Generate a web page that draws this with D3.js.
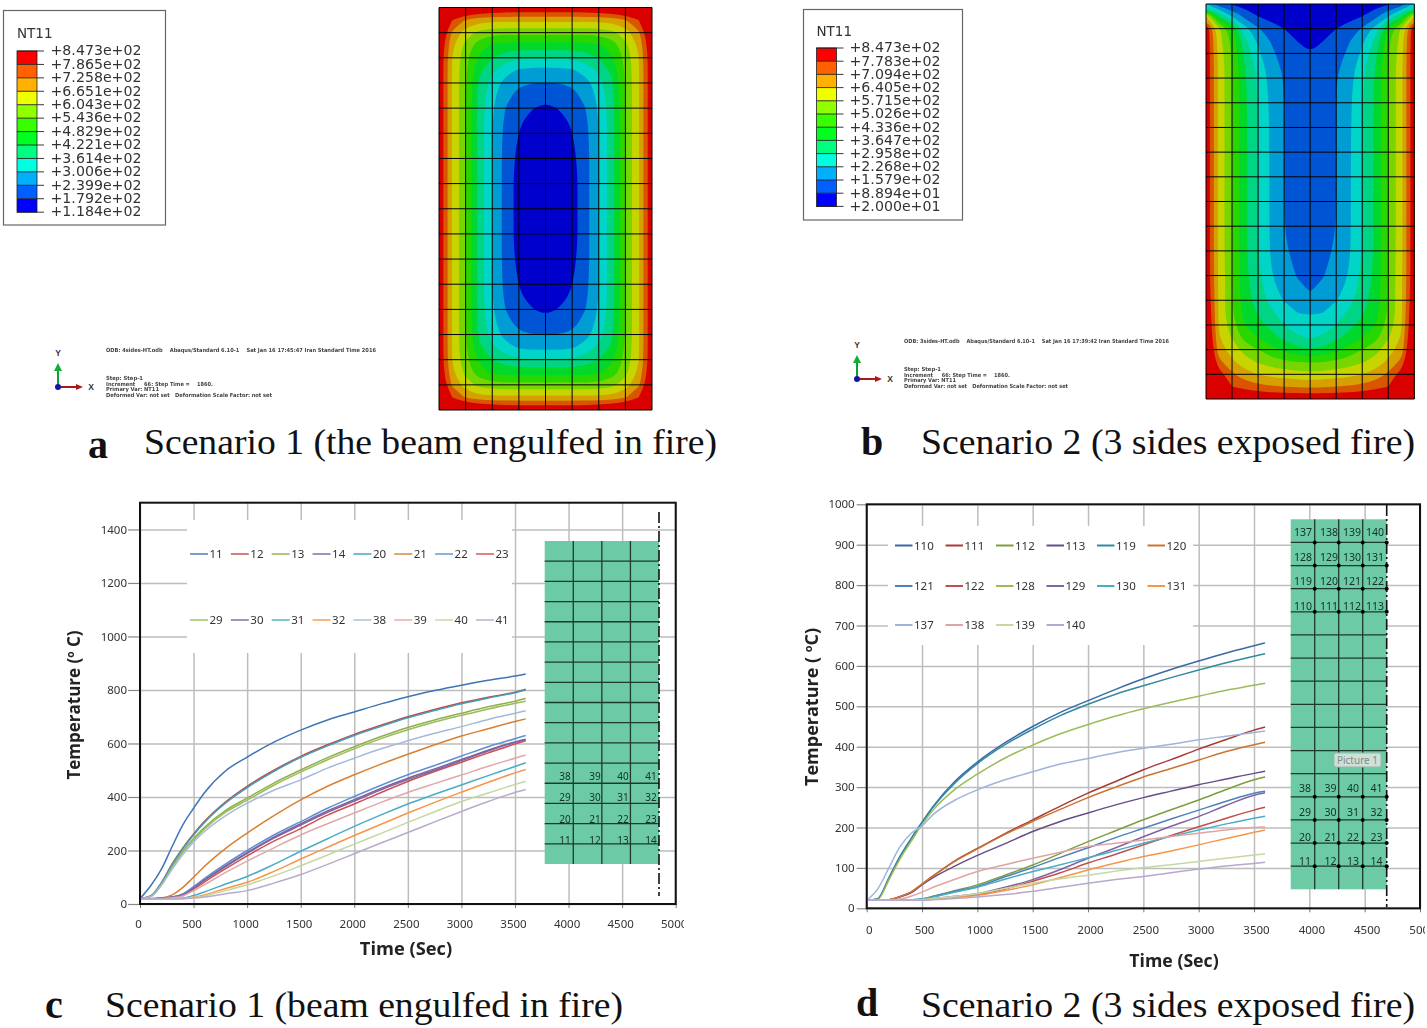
<!DOCTYPE html>
<html><head><meta charset="utf-8">
<script src="https://cdn.jsdelivr.net/npm/d3@7"></script>
<style>html,body{margin:0;padding:0;background:#fff}svg{display:block}</style>
</head><body><svg id="c" width="1427" height="1028"></svg>
<script>
// ---------- contour panels: temperature band level read at mesh half-cells
const fieldAQuadrant = [
 [14,13.5,13,12.6,12.3,12.1,12,12,12],
 [13.5,11,9.9,9.4,9.3,9.3,9.3,9.3,9.3],
 [12.5,9.8,8.5,7.7,7.4,7.3,7.3,7.3,7.3],
 [12.2,9.2,7.7,6.4,5.8,5.65,5.6,5.6,5.6],
 [12,9,7.3,5.9,5,4.4,4.15,4.1,4.1],
 [12,8.9,7.2,5.2,4.2,3.4,2.85,2.7,2.7],
 [12,8.9,7.1,4.9,3.6,2.6,2.15,2,2],
 [12,8.9,7.1,4.75,3.3,2.25,1.7,1.4,1.35],
 [12,8.9,7.1,4.65,3.15,2,1.35,1.05,.75],
 [12,8.9,7.1,4.6,3.05,1.8,1.12,.7,.55],
 [12,8.9,7.1,4.6,3,1.7,1,.5,.4],
 [12,8.9,7.1,4.6,3,1.65,.85,.4,.3],
 [12,8.9,7.1,4.6,3,1.6,.75,.3,.2],
 [12,8.9,7.1,4.6,3,1.6,.65,.25,.1],
 [12,8.9,7.1,4.6,3,1.6,.6,.2,.05],
 [12,8.9,7.1,4.6,3,1.6,.6,.2,0],
 [12,8.9,7.1,4.6,3,1.6,.6,.2,0]
];
const fieldARowUnits = d3.range(0,16.5,.5);
const fieldBRowUnits = [0,.5,1,1.5,2,2.5,3,4,6,9,10,11,11.5,12,12.5,13,13.5,14,14.5,15,15.5,16];
const fieldBHalf = [
 [3,1.3,.9,.6,.4,.3,.2,.1,0],
 [9,5,3,1.7,1,.6,.4,.3,.2],
 [12,8.2,6.2,3.4,2.1,1.5,1,.75,.6],
 [12,8.4,6.7,4.3,2.8,1.95,1.4,1,.85],
 [12,8.6,6.9,4.7,3.2,2.2,1.6,1.2,1],
 [12,8.7,7,5,3.6,2.4,1.8,1.5,1.4],
 [12,8.7,7.05,5.1,3.8,2.6,1.95,1.6,1.5],
 [12,8.7,7.05,5.2,3.95,2.8,2,1.7,1.6],
 [12,8.7,7.05,5.2,4,2.85,2,1.7,1.6],
 [12,8.7,7.05,5.2,4,2.85,2,1.7,1.6],
 [12,8.7,7.05,5.2,4,2.9,2.1,1.8,1.7],
 [12,8.75,7.1,5.25,4.3,3.1,2.4,1.95,1.8],
 [12.1,8.8,7.1,5.3,4.5,3.3,2.6,2.2,1.9],
 [12.2,8.8,7.1,5.4,4.65,3.65,2.95,2.4,2.2],
 [12.4,8.8,7.15,5.6,4.9,4.2,3.5,3,2.85],
 [12.6,8.9,7.4,6,5.3,4.7,4,3.6,3.5],
 [12.8,9.1,7.9,6.6,6,5.4,4.7,4.1,3.95],
 [13.2,9.4,8.6,7.6,7,6.3,5.8,5.3,5],
 [13.5,10.3,9.2,8.4,7.9,7.5,7.2,7,6.9],
 [14,11.5,10.2,9.4,9,8.7,8.5,8.4,8.3],
 [14,12.5,11,10.6,10.3,10.1,10,9.9,9.8],
 [14,14,13,12.5,12.2,12.1,12,12,12]
];
const mapBandColors = ["#0000cd","#0055d5","#009dd5","#00d5c8","#00d585","#00d82c","#28d600","#78d600","#c8d400","#d5a000","#d95500","#d90000"];
const legendBandColors = ["#ff0000","#ff6000","#ffb000","#f0ff00","#90ff00","#38ff00","#00ff20","#00ff80","#00ffe0","#00b0ff","#0060ff","#0000ff"];
const legendALabels = ["+8.473e+02","+7.865e+02","+7.258e+02","+6.651e+02","+6.043e+02","+5.436e+02","+4.829e+02","+4.221e+02","+3.614e+02","+3.006e+02","+2.399e+02","+1.792e+02","+1.184e+02"];
const legendBLabels = ["+8.473e+02","+7.783e+02","+7.094e+02","+6.405e+02","+5.715e+02","+5.026e+02","+4.336e+02","+3.647e+02","+2.958e+02","+2.268e+02","+1.579e+02","+8.894e+01","+2.000e+01"];

// ---------- time–temperature curves
const timesSec = [0,100,200,300,400,500,600,800,1000,1250,1500,1750,2000,2250,2500,2750,3000,3250,3500,3600];
const namesC = [11,12,13,14,20,21,22,23,29,30,31,32,38,39,40,41];
const colorsC = ["#3f74b5","#be4b48","#8fb04c","#7d60a0","#3f9fb8","#d97f30","#5f8fd0","#d05050","#9bbb59","#8064a2","#4bacc6","#f79646","#a5b9db","#e0a8a6","#c4d7a0","#b9a9cf"];
const c11=[20,68,130,215,296,358,415,498,549,605,650,688,718,748,775,798,818,836,852,860];
const c12=[20,30,80,150,210,262,308,382,440,500,552,595,634,668,700,727,752,773,792,803];
const c13=[20,28,75,142,198,245,286,350,396,452,501,547,588,626,660,688,713,737,758,768];
const c14=[20,20,22,26,36,62,90,143,192,250,300,348,390,432,470,505,540,575,606,616];
const c20=[20,30,78,148,207,258,304,378,435,496,548,591,630,664,696,723,748,770,790,800];
const c21=[20,20,22,34,62,100,140,208,265,330,389,440,483,523,560,595,628,655,682,692];
const c22=[20,20,22,26,38,65,95,150,200,258,308,358,402,444,483,518,553,588,618,630];
const c23=[20,20,21,24,33,56,82,132,180,235,282,332,374,417,458,495,530,565,598,610];
const c29=[20,28,73,138,194,240,280,343,388,444,493,539,580,618,651,680,705,729,750,758];
const c30=[20,20,21,25,35,60,88,140,189,246,295,343,385,427,465,500,536,572,604,614];
const c31=[20,20,20,20,22,32,45,75,103,148,197,244,290,333,374,410,445,480,514,528];
const c32=[20,20,20,20,21,26,34,58,81,122,168,212,256,298,340,380,418,455,490,503];
const c38=[20,27,70,130,185,232,270,330,377,425,464,508,545,580,610,638,663,690,713,722];
const c39=[20,20,20,23,30,50,72,118,160,210,258,300,340,380,417,450,482,515,545,557];
const c40=[20,20,20,20,21,24,30,50,72,105,143,183,224,264,305,345,383,415,447,459];
const c41=[20,20,20,20,20,22,26,38,50,78,110,148,188,228,267,307,346,383,417,428];
const seriesC=[c11,c12,c13,c14,c20,c21,c22,c23,c29,c30,c31,c32,c38,c39,c40,c41];

const namesD = [110,111,112,113,119,120,121,122,128,129,130,131,137,138,139,140];
const colorsD = ["#3a6aa5","#a83a38","#7e9d3f","#664e86","#35899f","#c97530","#4f81bd","#c0504d","#9bbb59","#8064a2","#4bacc6","#f79646","#a0b5d8","#e0a5a3","#c5d8a2","#b8a7ce"];
const d110=[20,24,75,128,172,213,252,315,362,410,450,485,514,542,568,591,612,632,650,657];
const d111=[20,20,21,29,40,60,80,118,148,185,219,253,285,314,343,368,394,418,441,449];
const d112=[20,20,20,20,21,23,30,44,58,82,107,136,165,192,219,244,268,294,318,325];
const d113=[20,20,21,28,38,58,76,105,131,160,190,215,236,256,274,290,306,320,334,339];
const d119=[20,24,74,127,171,212,250,311,358,405,443,477,505,530,551,571,590,608,624,630];
const d120=[20,20,21,29,40,60,80,117,147,183,215,245,274,300,325,346,367,388,405,411];
const d121=[20,20,20,20,21,23,29,42,54,78,101,126,150,175,198,221,243,265,285,290];
const d122=[20,20,20,20,20,21,23,28,34,48,67,88,112,134,157,180,202,223,243,250];
const d128=[20,22,70,122,165,207,243,295,332,372,404,432,455,476,494,510,525,540,552,557];
const d129=[20,20,20,20,20,21,24,30,36,52,71,96,124,150,177,203,227,255,280,286];
const d130=[20,20,20,20,21,23,28,40,52,72,91,108,125,143,161,178,194,209,223,228];
const d131=[20,20,20,20,20,21,23,27,32,44,58,76,95,112,128,142,157,173,188,194];
const d137=[20,48,100,152,185,204,232,268,293,318,338,357,371,385,396,406,417,426,435,439];
const d138=[20,20,20,23,30,40,52,72,91,108,124,139,153,161,169,178,186,194,200,201];
const d139=[20,20,20,20,20,21,24,30,36,49,62,73,82,92,101,108,116,124,132,135];
const d140=[20,20,20,20,20,20,21,24,28,34,42,52,62,71,79,88,97,105,111,114];
const seriesD=[d110,d111,d112,d113,d119,d120,d121,d122,d128,d129,d130,d131,d137,d138,d139,d140];

const xTicks=[0,500,1000,1500,2000,2500,3000,3500,4000,4500,5000];
const yTicksC=[0,200,400,600,800,1000,1200,1400];
const yTicksD=[0,100,200,300,400,500,600,700,800,900,1000];

const insetLabelsCRows=[[38,39,40,41],[29,30,31,32],[20,21,22,23],[11,12,13,14]];
const insetLabelsDTop=[[137,138,139,140],[128,129,130,131],[119,120,121,122],[110,111,112,113]];
const insetLabelsDBottom=[[38,39,40,41],[29,30,31,32],[20,21,22,23],[11,12,13,14]];

// ---------- drawing
const svg=d3.select("#c");
const defs=svg.append("defs");
defs.append("filter").attr("id","soft").attr("x","-5%").attr("y","-5%").attr("width","110%").attr("height","110%")
  .append("feGaussianBlur").attr("stdDeviation",.35);
defs.append("filter").attr("id","softer").attr("x","-5%").attr("y","-20%").attr("width","110%").attr("height","140%")
  .append("feGaussianBlur").attr("stdDeviation",.45);

function contourPanel(id,rows,rowUnits,x0,x1,y0,y1,nRows){
  const full=rows.map(r=>r.concat(r.slice(0,-1).reverse()));
  const n=full[0].length,m=full.length,vals=full.flat();
  const ux=d3.scaleLinear().domain([0,8]).range([x0,x1]);
  const uy=d3.scaleLinear().domain([0,nRows]).range([y0,y1]);
  const sx=d3.scaleLinear().domain([.5,n-.5]).range([x0,x1]);
  const sy=d3.scaleLinear().domain(rowUnits.map((_,i)=>i+.5)).range(rowUnits.map(u=>uy(u)));
  const ringLine=d3.line().x(p=>sx(p[0])).y(p=>sy(p[1])).curve(d3.curveBasisClosed);
  const toPath=c=>c.coordinates.flatMap(poly=>poly.map(r=>ringLine(r.slice(0,-1)))).join("");
  defs.append("clipPath").attr("id",id).append("rect").attr("x",x0).attr("y",y0).attr("width",x1-x0).attr("height",y1-y0);
  const g=svg.append("g").attr("clip-path",`url(#${id})`);
  g.append("rect").attr("x",x0).attr("y",y0).attr("width",x1-x0).attr("height",y1-y0).attr("fill",mapBandColors[0]);
  const cs=d3.contours().size([n,m]).thresholds(d3.range(1,12))(vals);
  g.selectAll("path").data(cs).join("path").attr("d",toPath).attr("fill-rule","evenodd").attr("fill",d=>mapBandColors[d.value]);
  const lines=svg.append("g").attr("stroke","#000").attr("stroke-width",1);
  lines.selectAll(".v").data(d3.range(0,9)).join("line").attr("x1",ux).attr("x2",ux).attr("y1",y0).attr("y2",y1);
  lines.selectAll(".h").data(d3.range(0,nRows+1)).join("line").attr("y1",uy).attr("y2",uy).attr("x1",x0).attr("x2",x1);
}
function reflect(rows){return rows.concat(rows.slice(0,-1).reverse());}
contourPanel("ca",reflect(fieldAQuadrant),fieldARowUnits,439,652,7.5,410,16);
contourPanel("cb",fieldBHalf,fieldBRowUnits,1206,1414.3,4,399,16);

function abaqusLegend(bx,by,bw,bh,sx,sTop,step,labels,labelX,titleY){
  const g=svg.append("g");
  g.append("rect").attr("x",bx).attr("y",by).attr("width",bw).attr("height",bh).attr("fill","#fff").attr("stroke","#666").attr("stroke-width",1.2);
  g.append("text").attr("x",sx).attr("y",titleY).attr("font-family","DejaVu Sans").attr("font-size",13.5).attr("fill","#333").attr("filter","url(#soft)").text("NT11");
  g.selectAll(".sw").data(legendBandColors).join("rect").attr("x",sx).attr("y",(d,i)=>sTop+i*step).attr("width",20).attr("height",step).attr("fill",d=>d);
  g.selectAll(".tk").data(labels).join("line").attr("x1",sx).attr("x2",sx+27).attr("y1",(d,i)=>sTop+i*step).attr("y2",(d,i)=>sTop+i*step).attr("stroke","#222").attr("stroke-width",.9);
  g.append("rect").attr("x",sx).attr("y",sTop).attr("width",20).attr("height",step*12).attr("fill","none").attr("stroke","#222").attr("stroke-width",.8);
  g.selectAll(".lb").data(labels).join("text").attr("x",labelX).attr("y",(d,i)=>sTop+i*step+4.3)
    .attr("font-family","DejaVu Sans").attr("font-size",14).attr("fill","#333").attr("textLength",91).attr("lengthAdjust","spacingAndGlyphs").attr("filter","url(#soft)").text(d=>d);
}
abaqusLegend(3.5,10.5,162,214.5,17,51,13.43,legendALabels,50.5,38);
abaqusLegend(803.5,9.5,159,210.5,816.5,48,13.2,legendBLabels,849.5,36);

function triad(ox,oy,tx,lines,lineYs){
  const g=svg.append("g");
  g.append("line").attr("x1",ox).attr("y1",oy).attr("x2",ox).attr("y2",oy-20).attr("stroke","#10a030").attr("stroke-width",2);
  g.append("path").attr("d",`M${ox-4},${oy-16}L${ox},${oy-24}L${ox+4},${oy-16}Z`).attr("fill","#10b030");
  g.append("line").attr("x1",ox).attr("y1",oy).attr("x2",ox+20).attr("y2",oy).attr("stroke","#b01818").attr("stroke-width",2);
  g.append("path").attr("d",`M${ox+18},${oy-3}L${ox+25},${oy}L${ox+18},${oy+3}Z`).attr("fill","#b01818");
  g.append("circle").attr("cx",ox).attr("cy",oy).attr("r",3).attr("fill","#1018a0");
  g.append("text").attr("x",ox).attr("y",oy-31).attr("text-anchor","middle").attr("font-family","Liberation Sans").attr("font-size",8.5).attr("font-weight",700).attr("fill","#333").text("Y");
  g.append("text").attr("x",ox+33).attr("y",oy+3).attr("text-anchor","middle").attr("font-family","Liberation Sans").attr("font-size",8.5).attr("font-weight",700).attr("fill","#333").text("X");
  g.selectAll(".t").data(lines).join("text").attr("x",tx).attr("y",(d,i)=>lineYs[i]).attr("font-family","DejaVu Sans").attr("font-weight",700).attr("font-size",5.6).attr("fill","#444")
    .attr("textLength",d=>d.w).attr("lengthAdjust","spacingAndGlyphs").attr("filter","url(#softer)").attr("xml:space","preserve").text(d=>d.s);
}
triad(58,387,106,[
 {s:"ODB: 4sides-HT.odb    Abaqus/Standard 6.10-1    Sat Jan 16 17:45:47 Iran Standard Time 2016",w:270},
 {s:"Step: Step-1",w:37},{s:"Increment     66: Step Time =    1860.",w:107},{s:"Primary Var: NT11",w:53},{s:"Deformed Var: not set   Deformation Scale Factor: not set",w:166}],[351.5,380,386,391,397]);
triad(857,379,904,[
 {s:"ODB: 3sides-HT.odb    Abaqus/Standard 6.10-1    Sat Jan 16 17:39:42 Iran Standard Time 2016",w:265},
 {s:"Step: Step-1",w:37},{s:"Increment     66: Step Time =    1860.",w:106},{s:"Primary Var: NT11",w:52},{s:"Deformed Var: not set   Deformation Scale Factor: not set",w:164}],[343,371,377,382,388]);

function chart(cfg){
  const x=d3.scaleLinear().domain([0,5000]).range([cfg.L,cfg.R]);
  const y=d3.scaleLinear().domain([0,cfg.yMax]).range([cfg.B,cfg.T]);
  const g=svg.append("g");
  const sans="'Noto Sans'";
  // grid
  const gx=g.append("g").attr("transform",`translate(0,${cfg.B})`).call(d3.axisBottom(x).tickValues(xTicks).tickSize(-(cfg.B-cfg.T)).tickFormat(""));
  const gy=g.append("g").attr("transform",`translate(${cfg.L},0)`).call(d3.axisLeft(y).tickValues(cfg.yTicks).tickSize(-(cfg.R-cfg.L)).tickFormat(""));
  [gx,gy].forEach(a=>{a.select(".domain").remove();a.selectAll("line").attr("stroke","#bdbdbd").attr("stroke-width",1.5);});
  // white legend area
  const lg=cfg.legend;
  g.append("rect").attr("x",lg.x0).attr("y",lg.y0).attr("width",lg.x1-lg.x0).attr("height",lg.y1-lg.y0).attr("fill","#fff");
  // curves
  const line=d3.line().x((d,i)=>x(timesSec[i])).y(d=>y(d)).curve(d3.curveMonotoneX);
  g.append("g").attr("fill","none").selectAll("path").data(cfg.series).join("path").attr("d",line)
    .attr("stroke",(d,i)=>cfg.colors[i]).attr("stroke-width",1.5);
  // axes with labels
  const clipId=cfg.id+"clip";
  defs.append("clipPath").attr("id",clipId).append("rect").attr("x",cfg.L-60).attr("y",0).attr("width",cfg.labelClip-cfg.L+60).attr("height",50);
  const ax=g.append("g").attr("transform",`translate(0,${cfg.B})`).attr("clip-path",`url(#${clipId})`)
    .call(d3.axisBottom(x).tickValues(xTicks).tickSize(4).tickPadding(cfg.xPad).tickFormat(d3.format("d")));
  ax.select(".domain").remove();
  ax.selectAll("line").attr("stroke","#777");
  ax.selectAll("text").attr("font-family",sans).attr("font-size",11.5).attr("fill","#333").attr("dx",cfg.xLabelDx).attr("filter","url(#soft)");
  const ay=g.append("g").attr("transform",`translate(${cfg.L},0)`).call(d3.axisLeft(y).tickValues(cfg.yTicks).tickSize(cfg.yTick).tickPadding(cfg.yPad).tickFormat(d3.format("d")));
  ay.select(".domain").remove();
  ay.selectAll("line").attr("stroke","#888").attr("stroke-width",1.2);
  ay.selectAll("text").attr("font-family",sans).attr("font-size",11.5).attr("fill","#333").attr("filter","url(#soft)");
  // frame
  g.append("rect").attr("x",cfg.L).attr("y",cfg.T).attr("width",cfg.R-cfg.L).attr("height",cfg.B-cfg.T).attr("fill","none").attr("stroke","#111").attr("stroke-width",2);
  // legend entries
  const le=g.append("g").selectAll("g").data(cfg.names).join("g").attr("transform",(d,i)=>{
    const [cx,cy]=cfg.legendAt(i);return `translate(${cx},${cy})`;});
  le.append("line").attr("x1",0).attr("x2",lg.len).attr("stroke",(d,i)=>cfg.colors[i]).attr("stroke-width",lg.sw);
  le.append("text").attr("x",lg.len+1.5).attr("y",4).attr("font-family",sans).attr("font-size",11.5).attr("fill","#333").attr("filter","url(#soft)").text(d=>d);
  // inset mesh
  const ins=cfg.inset;
  const ix=d3.scaleLinear().domain([0,4]).range([ins.x0,ins.x1]);
  const iy=d3.scaleLinear().domain([0,16]).range([ins.y0,ins.y1]);
  g.append("rect").attr("x",ins.x0).attr("y",ins.y0).attr("width",ins.x1-ins.x0).attr("height",ins.y1-ins.y0).attr("fill","#6ccba5");
  const il=g.append("g").attr("stroke","#1c3a30").attr("stroke-width",1.3);
  il.selectAll(".v").data(d3.range(1,4)).join("line").attr("x1",ix).attr("x2",ix).attr("y1",ins.y0).attr("y2",ins.y1);
  il.selectAll(".h").data(d3.range(1,16)).join("line").attr("y1",iy).attr("y2",iy).attr("x1",ins.x0).attr("x2",ins.x1);
  g.append("line").attr("x1",ins.x1).attr("x2",ins.x1).attr("y1",ins.dy0).attr("y2",ins.dy1).attr("stroke","#111").attr("stroke-width",1.6).attr("stroke-dasharray","11 3 2 3");
  ins.draw(g,ix,iy);
  // titles
  g.append("text").attr("x",cfg.xt[0]).attr("y",cfg.xt[1]).attr("text-anchor","middle").attr("font-family","'Open Sans'").attr("font-weight",700).attr("font-size",cfg.xtSize).attr("fill","#222").attr("filter","url(#soft)").text("Time (Sec)");
  const yt=g.append("text").attr("transform",`translate(${cfg.yt[0]},${cfg.yt[1]}) rotate(-90)`).attr("text-anchor","middle").attr("font-family","'Open Sans'").attr("font-weight",700).attr("font-size",cfg.ytSize).attr("fill","#222").attr("filter","url(#soft)");
  yt.append("tspan").text(cfg.ytA);
  yt.append("tspan").attr("dy",-6).attr("font-size",cfg.ytSize*.6).text("o");
  yt.append("tspan").attr("dy",6).text(cfg.ytB);
}
function nodeText(g,rows,xs,ys,size){
  rows.forEach((r,i)=>r.forEach((t,j)=>g.append("text").attr("x",xs[j]).attr("y",ys[i]).attr("text-anchor","middle").attr("font-family","'Noto Sans'").attr("font-size",size).attr("fill","#12302a").attr("filter","url(#soft)").text(t)));
}
chart({id:"cc",L:140,R:675.7,T:502.7,B:904,yMax:1500,yTicks:yTicksC,series:seriesC,colors:colorsC,names:namesC,
  labelClip:684,xPad:12,xLabelDx:-2,yTick:12,yPad:1,
  legend:{x0:187,x1:512,y0:520,y1:653,len:18,sw:1.4},
  legendAt:i=>[190+(i%8)*40.85,i<8?554:620],
  inset:{x0:544.7,x1:659,y0:541,y1:864,dy0:512,dy1:896,draw(g,ix,iy){
    nodeText(g,insetLabelsCRows,[565,595,623,651],[779.5,801,822.5,843.5],10);
  }},
  xt:[406,955],xtSize:18.3,yt:[80,705],ytSize:17,ytA:"Temperature (",ytB:" C)"});
chart({id:"cd",L:866.7,R:1420,T:504.3,B:908.3,yMax:1000,yTicks:yTicksD,series:seriesD,colors:colorsD,names:namesD,
  labelClip:1425,xPad:14,xLabelDx:2,yTick:10,yPad:2,
  legend:{x0:888,x1:1193,y0:526,y1:645,len:17.5,sw:2},
  legendAt:i=>[895+(i%6)*50.5,[545.5,586,625][Math.floor(i/6)]],
  inset:{x0:1290.7,x1:1386.7,y0:519.3,y1:889.3,dy0:505,dy1:907,draw(g,ix,iy){
    nodeText(g,insetLabelsDTop,[1303,1329,1352,1375],[536,560.5,585,609.5],10.5);
    nodeText(g,insetLabelsDBottom,[1305,1330.5,1353,1376.5],[791.5,815.5,840.5,865],10.5);
    const dotRows=[1,2,3,4,12,13,14,15],dotCols=[1,2,3,4];
    g.append("g").selectAll("circle").data(d3.cross(dotRows,dotCols)).join("circle").attr("cx",d=>ix(d[1])).attr("cy",d=>iy(d[0])).attr("r",2).attr("fill","#000");
    g.append("rect").attr("x",1334).attr("y",753).attr("width",47).attr("height",14).attr("rx",2).attr("fill","#cfe0d8").attr("stroke","#9fb5ab");
    g.append("text").attr("x",1357.5).attr("y",763.5).attr("text-anchor","middle").attr("font-family","'Noto Sans'").attr("font-size",10).attr("fill","#7d8d88").text("Picture 1");
  }},
  xt:[1174,967],xtSize:17.7,yt:[818,707],ytSize:18,ytA:"Temperature ( ",ytB:"C)"});

// captions
const captions=[
 {bold:"a",bx:88,bw:20,y:454,by:458,s:"Scenario 1 (the beam engulfed in fire)",x:144,w:573},
 {bold:"b",bx:861,bw:22,y:454,by:455,s:"Scenario 2 (3 sides exposed fire)",x:921,w:494},
 {bold:"c",bx:45,bw:17,y:1017,by:1018,s:"Scenario 1 (beam engulfed in fire)",x:105,w:518},
 {bold:"d",bx:856,bw:22,y:1017,by:1016,s:"Scenario 2 (3 sides exposed fire)",x:921,w:494}];
const capG=svg.append("g").attr("font-family","'Liberation Serif'").attr("fill","#111");
capG.selectAll(".s").data(captions).join("text").attr("x",d=>d.x).attr("y",d=>d.y).attr("font-size",36).attr("textLength",d=>d.w).attr("lengthAdjust","spacingAndGlyphs").text(d=>d.s);
capG.selectAll(".b").data(captions).join("text").attr("x",d=>d.bx).attr("y",d=>d.by).attr("font-size",40).attr("font-weight",700).text(d=>d.bold);
</script></body></html>
